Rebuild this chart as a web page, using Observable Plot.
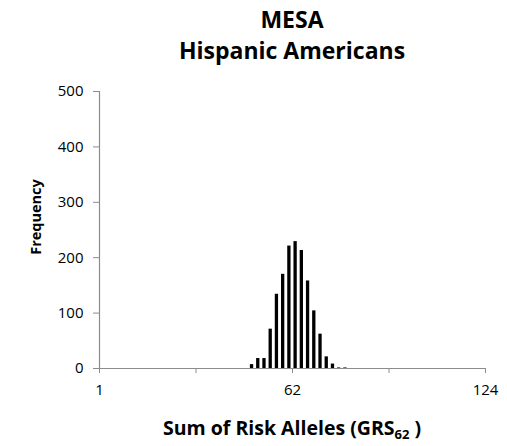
<!DOCTYPE html>
<html><head><meta charset="utf-8">
<script src="https://cdn.jsdelivr.net/npm/d3@7"></script>
<script src="https://cdn.jsdelivr.net/npm/@observablehq/plot@0.6"></script>
<style>body{margin:0;background:#fff;} svg{display:block;}</style>
</head><body><div id="chart"></div>
<script>
const binCenters = [49, 51, 53, 55, 57, 59, 61, 63, 65, 67, 69, 71, 73, 75, 77, 79];
const frequencies = [7, 18, 18, 71, 134, 170, 221, 229, 213, 158, 104, 62, 21, 8, 1, 1];
const xTickValues = [0, 31, 62, 93, 124];
const xTickLabels = ["1", "", "62", "", "124"];
const yTickValues = [0, 100, 200, 300, 400, 500];
const titleLines = ["MESA", "Hispanic Americans"];
const yLabel = "Frequency";
const xLabelMain = "Sum of Risk Alleles (GRS";
const xLabelSub = "62";
const xLabelEnd = " )";

const data = binCenters.map((x, i) => ({x, freq: frequencies[i]}));
const axisColor = "#8c8c8c";
const font = "'Open Sans', 'DejaVu Sans', sans-serif";

const plot = Plot.plot({
  width: 507, height: 446,
  marginLeft: 99, marginRight: 22, marginTop: 91, marginBottom: 78,
  style: {fontFamily: font, fontSize: "14px", color: "black", background: "white"},
  x: {type: "linear", domain: [0, 124]},
  y: {domain: [0, 500]},
  marks: [
    Plot.rectY(data, {x1: d => d.x - 0.53, x2: d => d.x + 0.53, y: "freq", fill: "black"}),
    Plot.ruleY([0], {stroke: axisColor, strokeWidth: 1.2}),
    Plot.ruleX([0], {stroke: axisColor, strokeWidth: 1.2}),
    Plot.axisX({ticks: xTickValues, tickFormat: d => xTickLabels[xTickValues.indexOf(d)], tickSize: 5, tickPadding: 11, stroke: axisColor, fill: "black", label: null, fontSize: 15}),
    Plot.axisY({ticks: yTickValues, tickSize: 6, tickPadding: 10, stroke: axisColor, fill: "black", label: null, fontSize: 15})
  ]
});

const svg = d3.select(plot);
const cx = plot.scale("x").apply(62);
svg.append("text").attr("x", cx).attr("y", 28).attr("text-anchor", "middle")
  .attr("font-family", font).attr("font-weight", "bold").attr("font-size", 23).attr("fill", "black").text(titleLines[0]);
svg.append("text").attr("x", cx).attr("y", 59).attr("text-anchor", "middle")
  .attr("font-family", font).attr("font-weight", "bold").attr("font-size", 23).attr("fill", "black").text(titleLines[1]);
svg.append("text").attr("transform", "translate(41,217) rotate(-90)").attr("text-anchor", "middle")
  .attr("font-family", font).attr("font-weight", "bold").attr("font-size", 14.5).attr("fill", "black").text(yLabel);
const xl = svg.append("text").attr("x", cx).attr("y", 435).attr("text-anchor", "middle")
  .attr("font-family", font).attr("font-weight", "bold").attr("font-size", 19.5).attr("fill", "black");
xl.append("tspan").text(xLabelMain);
xl.append("tspan").attr("font-size", 13).attr("dy", 4).text(xLabelSub);
xl.append("tspan").attr("dy", -4).text(xLabelEnd);

document.getElementById("chart").appendChild(plot);
</script>
</body></html>
